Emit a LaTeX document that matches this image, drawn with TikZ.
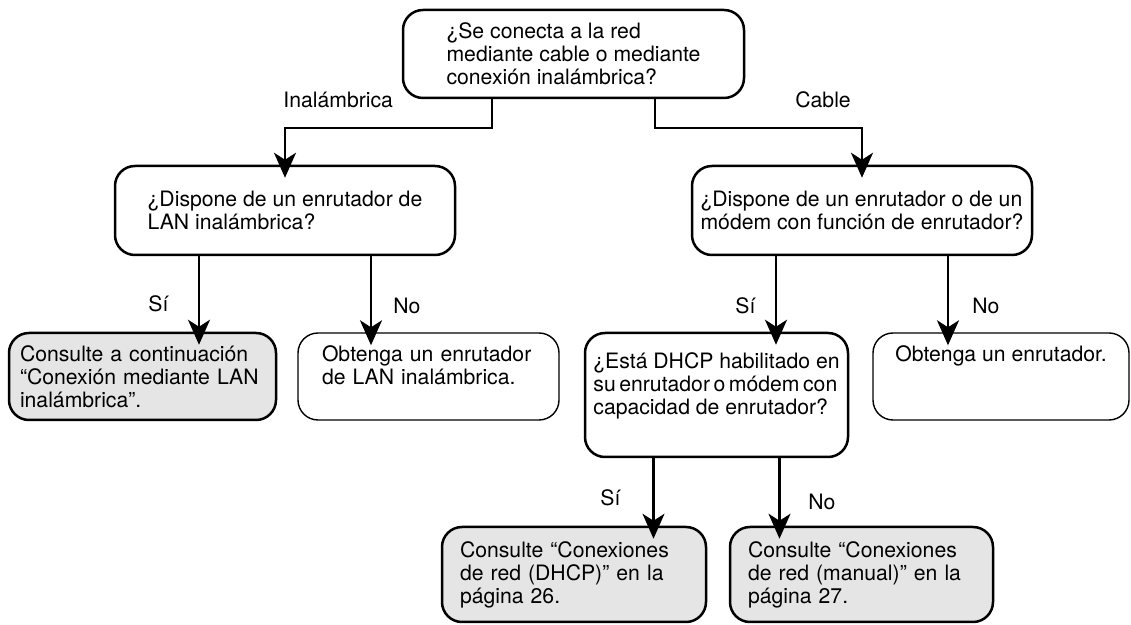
\documentclass[tikz,border=0pt]{standalone}
\usepackage{fontspec}
\setmainfont{TeX Gyre Heros}
\usetikzlibrary{arrows.meta}

\begin{document}
\begin{tikzpicture}[x=0.5pt, y=-0.5pt,
  box/.style={draw=black, line width=1.25pt, rounded corners=10pt, align=left, inner sep=0pt, font=\fontsize{10.6pt}{11.5pt}\selectfont},
  question/.style={box, fill=white},
  answer/.style={box, fill=black!10},
  action/.style={box, fill=white, line width=0.7pt},
  lbl/.style={anchor=base west, inner sep=0pt, font=\fontsize{10.6pt}{11.5pt}\selectfont},
  arr/.style={-{Stealth[length=12.5pt, width=11pt, inset=3.5pt]}, line width=1.15pt, shorten >=-6.5pt},
]
\useasboundingbox (0,0) rectangle (1131,625);

% === Questions ===
\node[question, minimum width=170.5pt, minimum height=44pt] (q1) at (573.5, 54) {¿Se conecta a la red\\mediante cable o mediante\\conexión inalámbrica?};
\node[question, minimum width=170pt, minimum height=44.5pt] (q2) at (285, 210.5) {¿Dispone de un enrutador de\\LAN inalámbrica?};
\node[question, minimum width=170pt, minimum height=44.5pt] (q3) at (862, 210.5) {¿Dispone de un enrutador o de un\\módem con función de enrutador?};
\node[question, minimum width=131.5pt, minimum height=62pt] (q4) at (716.5, 395) {¿Está DHCP habilitado en\\su\,enrutador\,o\,módem\,con\\capacidad de enrutador?\\~};

% === Answers ===
\node[answer, minimum width=133.5pt, minimum height=43.5pt, text width=122.5pt] (a1) at (142.5, 376.5) {Consulte a continuación\\“Conexión mediante LAN\\inalámbrica”.};
\node[action, minimum width=130.5pt, minimum height=43.5pt, text width=106.5pt] (a2) at (428.5, 376.5) {Obtenga un enrutador\\de LAN inalámbrica.\\~};
\node[action, minimum width=128pt, minimum height=43.5pt] (a3) at (1001, 376.5) {Obtenga un enrutador.\\~\\~};
\node[answer, minimum width=132pt, minimum height=47.5pt, text width=114pt] (b1) at (574, 574.5) {Consulte “Conexiones\\de red (DHCP)” en la\\página 26.};
\node[answer, minimum width=131.5pt, minimum height=47.5pt, text width=113.5pt] (b2) at (861.5, 574.5) {Consulte “Conexiones\\de red (manual)” en la\\página 27.};

% === Labels ===
\node[lbl] (lwl) at (283, 108) {Inalámbrica};
\node[lbl] (lcb) at (795, 108) {Cable};
\node[lbl] (ls1) at (148, 312) {Sí};
\node[lbl] (ln1) at (393, 314) {No};
\node[lbl] (ls2) at (735, 314) {Sí};
\node[lbl] (ln2) at (972, 314) {No};
\node[lbl] (ls3) at (600, 506) {Sí};
\node[lbl] (ln3) at (808, 510) {No};

% === Arrows ===
\draw[arr] ([xshift=-40.75pt]q1.south) -- ++(0,29) -| (q2.north);
\draw[arr] ([xshift=40.75pt]q1.south) -- ++(0,29) -| (q3.north);

\draw[arr] ([xshift=-43pt]q2.south) -- ([xshift=-43pt]q2.south |- a1.north);
\draw[arr] ([xshift=43pt]q2.south) -- ([xshift=43pt]q2.south |- a2.north);
\draw[arr] ([xshift=-43pt]q3.south) -- ([xshift=-43pt]q3.south |- q4.north);
\draw[arr] ([xshift=43pt]q3.south) -- ([xshift=43pt]q3.south |- a3.north);

\draw[arr] ([xshift=-31.5pt]q4.south) -- ([xshift=-31.5pt]q4.south |- b1.north);
\draw[arr] ([xshift=31.5pt]q4.south) -- ([xshift=31.5pt]q4.south |- b2.north);

\end{tikzpicture}
\end{document}
